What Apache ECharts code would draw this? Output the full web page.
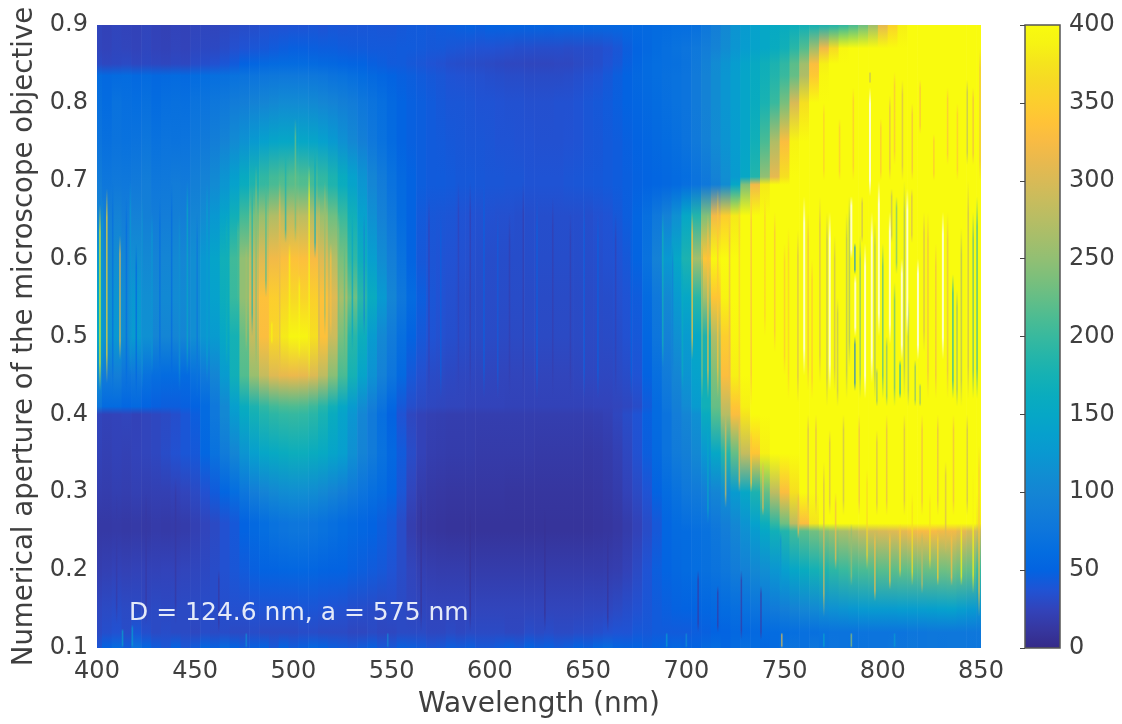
<!DOCTYPE html>
<html><head><meta charset="utf-8"><style>html,body{margin:0;padding:0;background:#fff}#c{width:1122px;height:724px}</style>
<script src="https://cdn.jsdelivr.net/npm/echarts@6/dist/echarts.min.js"></script></head><body><div id="c"></div>
<script>
const xTicks=[400,450,500,550,600,650,700,750,800,850];
const wavelengths=[];for(let w=400;w<=850;w+=5)wavelengths.push(w);
const Y=420;
const r090=[26,24,26,25,24,26,24,23,25,24,26,27,26,28,30,32,33,35,36,37,38,38,39,38,40,39,40,40,41,40,40,42,43,44,43,45,46,48,49,48,50,50,51,52,52,53,52,54,54,55,55,56,56,57,57,58,58,60,62,64,64,68,78,90,105,120,130,140,150,155,160,165,170,175,180,185,195,210,230,260,310,355,385,400,410,420,420,420,420,420,420];
const r087=[26,25,27,26,25,27,25,24,26,25,28,29,29,32,35,38,40,42,44,46,48,48,47,46,46,45,44,44,43,43,43,44,44,43,42,42,40,39,38,37,37,36,35,34,34,33,33,33,32,33,33,34,36,40,46,52,56,62,66,70,74,80,88,98,110,122,132,142,150,160,170,190,215,260,320,365,395,410,415,420,Y,Y,Y,Y,Y,Y,Y,Y,Y,Y,Y];
const r085=[30,28,29,30,28,29,28,27,29,28,32,34,36,40,44,50,54,58,60,62,62,62,60,58,56,54,52,50,48,46,44,44,42,40,38,36,34,33,32,31,30,29,28,28,27,27,27,28,28,30,32,34,38,42,48,54,60,64,66,68,72,82,94,108,120,132,144,156,168,180,195,220,260,330,385,405,415,420,Y,Y,Y,Y,Y,Y,Y,Y,Y,Y,Y,Y,Y];
const r0835=[62,58,60,62,58,60,56,58,60,58,62,64,66,68,70,72,74,76,78,80,80,80,78,76,72,70,66,62,58,54,50,48,46,44,42,40,38,37,36,35,34,33,32,32,31,31,31,31,32,34,36,38,42,46,50,56,60,64,68,70,74,84,96,110,122,134,146,158,170,185,200,225,270,345,395,410,418,Y,Y,Y,Y,Y,Y,Y,Y,Y,Y,Y,Y,Y,Y];
const r080=[68,62,70,66,64,68,62,66,68,66,72,74,78,82,86,90,96,100,104,108,108,108,106,102,98,92,86,78,72,66,58,52,48,46,44,42,40,40,39,38,38,37,36,36,35,35,35,36,36,38,40,42,44,47,50,54,58,62,66,70,74,84,96,110,122,134,146,160,178,200,235,300,370,405,415,Y,Y,Y,Y,Y,Y,Y,Y,Y,Y,Y,Y,Y,Y,Y,Y];
const r075=[74,68,72,70,72,76,70,74,72,74,80,84,90,98,108,118,128,138,146,150,152,150,146,138,128,116,104,92,80,70,60,52,48,46,44,43,42,41,40,40,39,38,38,37,37,36,36,36,37,38,40,41,43,45,48,50,54,58,62,66,72,82,94,108,120,132,146,170,210,270,330,390,410,Y,Y,Y,Y,Y,Y,Y,Y,Y,Y,Y,Y,Y,Y,Y,Y,Y,Y];
const r0705=[85,76,80,78,82,86,78,80,84,82,90,96,106,120,136,158,178,195,206,212,215,212,205,195,180,160,140,120,100,85,70,58,50,46,44,44,43,42,42,41,40,40,39,39,38,38,38,38,39,40,41,42,43,45,47,49,52,54,57,60,64,72,82,96,112,130,150,185,250,310,370,400,415,Y,Y,Y,Y,Y,Y,Y,Y,Y,Y,Y,Y,Y,Y,Y,Y,Y,Y];
const r0695=[88,78,82,80,84,88,80,82,86,84,92,98,108,122,140,162,182,198,210,216,218,215,208,198,182,162,142,122,102,86,71,59,50,46,44,44,43,42,42,41,40,40,39,39,38,38,38,38,39,40,41,42,43,45,47,49,52,54,57,60,66,72,80,92,110,150,240,320,380,410,Y,Y,Y,Y,Y,Y,Y,Y,Y,Y,Y,Y,Y,Y,Y,Y,Y,Y,Y,Y,Y];
const r0655=[100,90,96,88,95,92,86,88,92,90,100,108,125,145,170,205,235,255,270,278,280,278,272,255,230,200,170,140,115,95,78,62,50,43,41,40,39,38,37,36,36,35,35,34,34,34,34,34,34,34,34,36,38,42,46,54,66,80,95,115,150,185,240,320,350,380,405,Y,Y,Y,Y,Y,Y,Y,Y,Y,Y,Y,Y,Y,Y,Y,Y,Y,Y,Y,Y,Y,Y,Y,Y];
const r060=[125,105,110,100,112,105,98,100,104,102,112,125,145,170,205,250,280,305,320,330,335,332,325,305,275,235,195,165,135,110,90,70,52,42,39,38,37,36,35,34,33,33,33,33,33,33,33,33,33,33,33,34,36,38,42,52,70,95,125,150,180,260,340,395,410,Y,Y,Y,Y,Y,Y,Y,Y,Y,Y,Y,Y,Y,Y,Y,Y,Y,Y,Y,Y,Y,Y,Y,Y,Y,Y];
const r055=[145,115,120,108,125,112,104,106,108,106,112,125,140,165,200,250,300,335,350,358,362,358,352,335,305,265,230,190,160,128,100,78,60,46,40,37,35,34,33,32,32,32,32,32,31,31,31,31,31,31,31,32,33,35,38,45,60,80,105,130,150,190,260,340,390,410,Y,Y,Y,Y,Y,Y,Y,Y,Y,Y,Y,Y,Y,Y,Y,Y,Y,Y,Y,Y,Y,Y,Y,Y,Y];
const r050=[150,120,125,110,130,115,100,100,100,100,112,122,130,150,175,225,285,330,360,380,392,390,370,335,290,235,190,165,130,105,85,66,50,42,38,35,34,33,32,31,31,30,30,30,30,30,30,30,30,30,30,30,31,33,36,42,55,75,95,115,130,150,180,270,350,395,410,Y,Y,Y,Y,Y,Y,Y,Y,Y,Y,Y,Y,Y,Y,Y,Y,Y,Y,Y,Y,Y,Y,Y,Y];
const r045=[110,85,90,75,80,70,65,62,62,60,70,82,100,130,170,215,255,285,305,312,315,312,302,280,245,210,175,145,118,95,75,58,42,35,31,30,29,28,28,27,27,26,26,26,26,26,26,26,26,27,28,28,28,30,32,38,50,66,85,100,120,140,170,240,330,385,410,Y,Y,Y,Y,Y,Y,Y,Y,Y,Y,Y,Y,Y,Y,Y,Y,Y,Y,Y,Y,Y,Y,Y,Y];
const r041=[75,60,60,55,58,52,48,46,46,48,50,60,80,105,135,160,180,195,205,210,212,210,202,188,170,150,130,110,90,72,55,42,34,30,28,27,26,26,25,25,25,25,24,24,24,24,24,24,24,24,24,25,25,26,28,32,44,60,76,92,108,130,170,225,285,340,385,410,Y,Y,Y,Y,Y,Y,Y,Y,Y,Y,Y,Y,Y,Y,Y,Y,Y,Y,Y,Y,Y,Y,Y];
const r040=[26,24,25,26,24,26,28,30,34,40,46,60,80,105,130,155,172,185,192,196,198,196,190,178,160,142,122,102,84,66,50,38,28,24,22,21,20,20,20,20,20,20,20,20,20,20,20,20,20,20,20,21,23,27,32,38,48,60,72,88,100,115,160,215,275,330,375,405,Y,Y,Y,Y,Y,Y,Y,Y,Y,Y,Y,Y,Y,Y,Y,Y,Y,Y,Y,Y,Y,Y,Y];
const r035=[24,22,24,23,25,26,28,32,36,40,42,55,70,85,100,120,135,148,155,160,165,165,160,155,145,135,115,98,85,70,56,44,32,24,20,19,18,18,18,17,17,17,17,17,17,16,16,16,16,16,15,16,18,22,28,36,46,58,72,85,92,105,125,150,185,225,285,340,385,410,Y,Y,Y,Y,Y,Y,Y,Y,Y,Y,Y,Y,Y,Y,Y,Y,Y,Y,Y,Y,Y];
const r030=[20,19,21,20,22,21,22,22,24,26,30,36,44,54,64,76,88,98,105,110,112,112,110,105,98,90,82,74,66,60,52,40,26,18,15,14,13,13,13,13,13,13,12,12,12,12,12,12,12,12,12,13,15,18,24,30,38,50,62,70,80,84,90,100,112,130,150,180,225,280,330,370,400,415,Y,Y,Y,Y,Y,Y,Y,Y,Y,Y,Y,Y,Y,Y,Y,Y,Y];
const r026=[15,15,16,15,16,15,17,16,17,18,22,26,30,36,42,50,58,64,70,74,76,76,74,70,66,62,58,54,50,46,42,32,20,14,12,11,10,10,10,10,10,10,10,10,10,10,10,10,10,10,10,11,12,14,18,24,32,42,54,62,66,70,74,82,92,105,120,140,165,195,230,280,330,375,405,Y,Y,Y,Y,Y,Y,Y,Y,Y,Y,Y,Y,Y,Y,400,380,360];
const r025=[15,15,16,15,16,15,17,16,17,18,22,26,30,36,42,50,58,64,70,74,76,76,74,70,66,62,58,54,50,46,42,32,20,14,12,11,10,10,10,10,10,10,10,10,10,10,10,10,10,10,10,11,12,14,18,24,32,42,54,60,62,66,70,78,88,100,115,130,150,170,185,205,220,232,245,255,265,275,285,295,300,305,310,320,325,325,320,320,310,300,290];
const r020=[20,22,24,23,24,24,24,25,25,26,27,29,32,36,40,44,48,50,52,54,55,55,54,52,50,50,48,46,44,42,38,32,26,22,20,19,19,19,18,18,18,18,18,18,18,18,18,18,18,18,18,18,19,20,24,30,38,46,52,56,60,64,68,72,78,86,94,104,112,122,135,148,160,172,182,192,200,206,210,214,218,220,222,224,226,228,230,232,228,224,200];
const r015=[28,30,32,30,30,28,30,29,30,30,30,32,32,34,35,35,37,38,38,38,38,39,39,38,37,36,34,33,32,30,32,30,28,27,26,26,26,26,26,26,26,26,26,26,26,26,26,26,26,26,27,27,28,30,33,36,40,44,47,49,50,52,55,58,62,66,70,74,78,84,90,96,102,106,112,116,120,124,128,130,130,130,132,132,134,136,138,140,134,128,120];
const r012=[30,34,36,32,40,34,30,32,30,30,28,32,30,32,30,30,32,30,30,30,30,32,32,30,30,30,28,28,30,28,28,30,30,30,28,28,30,28,30,30,30,30,28,28,32,30,32,30,30,32,32,34,36,38,38,42,42,44,44,44,44,46,48,50,52,56,56,58,60,62,64,66,68,68,70,72,72,72,74,74,74,74,74,76,76,78,78,78,78,78,78];
const r010=[40,50,60,45,70,55,45,40,50,40,45,55,48,60,50,45,48,50,42,50,45,48,55,50,46,44,42,45,48,42,42,48,46,44,40,42,46,44,46,42,42,45,48,44,50,46,48,44,46,50,48,55,60,52,50,50,48,50,52,55,52,50,58,62,54,60,66,62,55,60,70,72,68,76,70,74,72,70,72,74,74,76,75,78,76,78,76,78,78,76,76];
const naRows=[0.90,0.87,0.85,0.835,0.80,0.75,0.705,0.695,0.655,0.60,0.55,0.50,0.45,0.41,0.40,0.35,0.30,0.26,0.25,0.20,0.15,0.12,0.10];
const rows=[r090,r087,r085,r0835,r080,r075,r0705,r0695,r0655,r060,r055,r050,r045,r041,r040,r035,r030,r026,r025,r020,r015,r012,r010];
// thin streaks: wavelength, NA low, NA high, value
const streaksLeft=[[401.5,0.43,0.67,395],[405,0.44,0.69,360],[411.7,0.47,0.63,320],[415,0.42,0.68,60],[402.8,0.45,0.68,130],[428,0.45,0.66,125],[446,0.45,0.7,150],[420,0.42,0.62,55],[438,0.42,0.7,60],[408,0.42,0.7,65],[417,0.45,0.7,125],[423,0.43,0.68,115],[432,0.44,0.68,65],[442,0.43,0.66,115],[451,0.42,0.66,75],[456,0.44,0.7,135]];
const streaksBump=[[471.8,0.54,0.65,210],[476,0.48,0.62,260],[481,0.46,0.72,240],[489,0.49,0.52,390],[493,0.44,0.7,310],[498,0.5,0.62,390],[503,0.47,0.58,395],[508,0.44,0.72,390],[513,0.47,0.68,290],[519,0.5,0.62,330],[526,0.45,0.63,220],[486,0.55,0.7,210],[466,0.46,0.66,170],[479,0.5,0.7,185],[496,0.62,0.74,180],[501,0.62,0.78,230],[511,0.6,0.74,160],[516,0.5,0.7,250],[523,0.5,0.66,240],[530,0.48,0.66,150],[536,0.5,0.66,105]];
const streaksMiddle=[[569,0.42,0.68,24],[584,0.42,0.7,24],[597,0.42,0.7,48],[610,0.42,0.66,20],[624,0.42,0.68,46],[641,0.42,0.66,20],[655,0.42,0.66,48],[575,0.42,0.66,46],[590,0.42,0.7,20],[604,0.42,0.66,44],[617,0.42,0.7,20],[632,0.42,0.68,20],[648,0.42,0.68,46],[664,0.42,0.66,22],[672,0.42,0.66,50]];
const streaksEdge=[[688,0.46,0.66,170],[693,0.44,0.62,90],[698,0.43,0.6,160],[703,0.47,0.66,340],[708,0.42,0.62,240],[711,0.42,0.66,330],[716,0.42,0.69,340],[722,0.42,0.66,320],[727,0.41,0.68,350],[733,0.41,0.69,330],[745,0.48,0.66,330],[752,0.42,0.64,350]];
const streaksYellow=[[756.8,0.415,0.637,300],[764,0.42,0.6,340],[771.6,0.41,0.66,280],[775.5,0.43,0.63,290],[781.6,0.42,0.66,270],[785.8,0.43,0.5,90],[785.8,0.58,0.62,110],[788.5,0.42,0.63,240],[796,0.42,0.65,260],[800,0.42,0.62,210],[804.5,0.62,0.69,280],[806,0.41,0.57,220],[808.8,0.42,0.47,170],[811,0.42,0.7,260],[814.8,0.62,0.69,300],[819,0.41,0.44,250],[823,0.42,0.66,320],[835.7,0.42,0.58,170],[840,0.41,0.64,270],[843.5,0.42,0.7,290],[846,0.42,0.66,220],[848,0.42,0.68,190],[768,0.44,0.68,300],[777,0.41,0.55,280],[783,0.46,0.68,260],[789.5,0.62,0.68,290],[797,0.41,0.46,250],[802,0.41,0.5,240],[807,0.58,0.68,230],[813,0.41,0.55,260],[816.5,0.41,0.47,240],[821,0.48,0.66,300],[827,0.42,0.62,320],[833,0.42,0.66,310],[837.8,0.41,0.56,250],[762,0.43,0.66,320],[750,0.45,0.62,340],[740,0.5,0.68,350]];
const streaksTop=[[793.5,0.825,0.84,280],[810,0.7,0.83,300],[843,0.72,0.83,280],[849.5,0.7,0.87,320],[803.6,0.7,0.81,310],[819,0.76,0.83,330],[799,0.7,0.78,340],[826,0.7,0.76,340],[838,0.7,0.8,340],[785,0.7,0.82,340],[815,0.7,0.8,320],[833,0.72,0.82,330],[846,0.72,0.82,320],[778,0.7,0.78,340],[770,0.7,0.8,350],[806,0.72,0.84,330]];
const streaksLower=[[711,0.26,0.39,150],[720,0.28,0.4,300],[727,0.3,0.4,320],[733,0.3,0.38,340],[739,0.27,0.34,310],[757,0.24,0.3,320],[770,0.14,0.34,300],[776,0.2,0.3,320],[784,0.18,0.26,250],[792,0.2,0.33,360],[803.6,0.175,0.25,340],[808.8,0.19,0.26,350],[815,0.18,0.3,370],[824,0.2,0.3,370],[832,0.22,0.34,300],[840,0.18,0.26,390],[846,0.17,0.33,390],[849,0.14,0.36,340],[762,0.27,0.4,300],[766,0.27,0.4,310],[773,0.27,0.38,300],[780,0.27,0.4,290],[788,0.27,0.4,320],[797,0.27,0.38,300],[802,0.27,0.4,310],[811,0.27,0.4,300],[820,0.27,0.4,320],[828,0.27,0.4,310],[836,0.27,0.4,320],[843,0.27,0.4,290],[748,0.17,0.25,120],[796,0.16,0.25,330],[820,0.17,0.25,280],[828,0.18,0.25,350],[835,0.18,0.25,330]];
const streaksBottom=[[748.6,0.1,0.12,300],[784,0.1,0.12,250],[413,0.1,0.125,140],[418,0.1,0.13,130],[476,0.1,0.12,110],[548,0.1,0.12,100],[690,0.1,0.12,130],[700,0.1,0.12,110],[770,0.1,0.12,140],[806,0.1,0.12,130],[410,0.13,0.3,16],[425,0.13,0.3,14],[440,0.13,0.32,13],[462,0.12,0.2,14],[565,0.12,0.3,8],[590,0.12,0.28,7],[628,0.12,0.28,7],[660,0.12,0.25,10],[706,0.12,0.2,15],[716,0.12,0.18,15],[728,0.11,0.2,15],[738,0.11,0.18,16]];
const streaks=[].concat(streaksLeft,streaksBump,streaksMiddle,streaksEdge,streaksYellow,streaksTop,streaksLower,streaksBottom);
const whiteStreaks=[[773,0.43,0.66],[786,0.5,0.58],[791,0.42,0.62],[794.4,0.44,0.66],[803.6,0.49,0.66],[809.7,0.47,0.6],[817.9,0.47,0.6],[830.6,0.47,0.66],[798,0.5,0.7],[812.5,0.5,0.69],[784,0.6,0.68],[793.5,0.68,0.82],[760,0.45,0.68]];
const parulaStops=[[.2081,.1663,.5292],[.2123,.2138,.6270],[.1959,.2645,.7279],[.1253,.3242,.8303],[.0117,.3875,.8820],[.0165,.4266,.8786],[.0498,.4586,.8641],[.0723,.4887,.8467],[.0793,.5200,.8312],[.0641,.5570,.8240],[.0343,.5966,.8199],[.0239,.6287,.8038],[.0228,.6535,.7768],[.0384,.6743,.7436],[.0843,.6928,.7062],[.1453,.7098,.6646],[.2178,.7250,.6193],[.3022,.7376,.5712],[.3953,.7459,.5244],[.4871,.7491,.4840],[.5709,.7485,.4494],[.6473,.7456,.4188],[.7184,.7411,.3905],[.7858,.7356,.3633],[.8507,.7299,.3360],[.9139,.7258,.3063],[.9739,.7314,.2666],[.9990,.7653,.2164],[.9880,.8066,.1794],[.9697,.8481,.1475],[.9589,.8949,.1132],[.9661,.9514,.0755],[.9763,.9831,.0538]];
function color(v,a){
  const t=Math.max(0,Math.min(1,v/400))*(parulaStops.length-1),i=Math.min(Math.floor(t),parulaStops.length-2),f=t-i;
  const c=parulaStops[i].map((p,k)=>Math.round(255*(p+(parulaStops[i+1][k]-p)*f)));
  return a===undefined?`rgb(${c})`:`rgba(${c},${a})`;
}
function stripItem(params,api){
  const i=params.dataIndex,w=api.value(0);
  const l=Math.max(400,w-2.5),r=Math.min(850,w+2.5);
  const p0=api.coord([l,0.9]),p1=api.coord([r,0.1]);
  const stops=naRows.map((na,k)=>({offset:(0.9-na)/0.8,color:color(rows[k][i])}));
  return {type:'rect',shape:{x:p0[0],y:p0[1],width:p1[0]-p0[0]+0.6,height:p1[1]-p0[1]},
    style:{fill:{type:'linear',x:0,y:0,x2:0,y2:1,colorStops:stops}}};
}
function streakFill(rgbFn,peak){
  return {type:'linear',x:0,y:0,x2:0,y2:1,colorStops:[{offset:0,color:rgbFn(0)},{offset:.15,color:rgbFn(peak)},{offset:.85,color:rgbFn(peak)},{offset:1,color:rgbFn(0)}]};
}
function streakItem(params,api){
  const w=api.value(0),lo=api.value(1),hi=api.value(2),v=api.value(3);
  const a=api.coord([w,hi]),b=api.coord([w,lo]);
  return {type:'rect',shape:{x:a[0]-0.8,y:a[1],width:1.6,height:b[1]-a[1]},style:{fill:streakFill(al=>color(v,al),.7)}};
}
function whiteItem(params,api){
  const w=api.value(0),lo=api.value(1),hi=api.value(2);
  const a=api.coord([w,hi]),b=api.coord([w,lo]);
  return {type:'rect',shape:{x:a[0]-1,y:a[1],width:2,height:b[1]-a[1]},style:{fill:streakFill(al=>`rgba(255,255,235,${al})`,.85)}};
}
const font='"DejaVu Sans"',ink='#3f3f3f';
const chart=echarts.init(document.getElementById('c'),null,{renderer:'canvas'});
chart.setOption({
  animation:false,backgroundColor:'#fff',
  grid:[{left:97,right:141,top:25,bottom:76,outerBoundsMode:'none'},{left:1025,width:35,top:25,bottom:76,outerBoundsMode:'none'}],
  xAxis:[
    {type:'value',gridIndex:0,min:400,max:850,interval:50,name:'Wavelength (nm)',nameLocation:'middle',nameGap:43,
     nameTextStyle:{fontFamily:font,fontSize:28,color:ink},axisLine:{show:false},axisTick:{show:false},splitLine:{show:false},
     axisLabel:{fontFamily:font,fontSize:24,color:ink,margin:12,formatter:v=>xTicks.includes(v)?String(v):''}},
    {type:'value',gridIndex:1,min:0,max:1,show:false}
  ],
  yAxis:[
    {type:'value',gridIndex:0,min:0.1,max:0.9,interval:0.1,name:'Numerical aperture of the microscope objective',nameLocation:'middle',nameGap:56,
     nameTextStyle:{fontFamily:font,fontSize:27.6,color:ink},axisLine:{show:false},axisTick:{show:false},splitLine:{show:false},
     axisLabel:{fontFamily:font,fontSize:24,color:ink,margin:9,formatter:v=>v.toFixed(1)}},
    {type:'value',gridIndex:1,min:0,max:400,interval:50,position:'right',z:10,axisLine:{show:false},splitLine:{show:false},
     axisTick:{show:true,inside:true,length:5,lineStyle:{color:'#444',width:1}},
     axisLabel:{fontFamily:font,fontSize:24,color:ink,margin:9}}
  ],
  series:[
    {type:'custom',name:'strips',xAxisIndex:0,yAxisIndex:0,clip:true,silent:true,encode:{x:0,y:1},renderItem:stripItem,data:wavelengths.map(w=>[w,0.5])},
    {type:'custom',name:'streaks',xAxisIndex:0,yAxisIndex:0,clip:true,silent:true,z:3,encode:{x:0,y:1},renderItem:streakItem,data:streaks},
    {type:'custom',name:'white',xAxisIndex:0,yAxisIndex:0,clip:true,silent:true,z:4,encode:{x:0,y:1},renderItem:whiteItem,data:whiteStreaks},
    {type:'custom',name:'colorbar',xAxisIndex:1,yAxisIndex:1,silent:true,encode:{x:0,y:1},
     renderItem:function(p,api){
       const a=api.coord([0,400]),b=api.coord([1,0]);
       return {type:'rect',shape:{x:a[0],y:a[1],width:b[0]-a[0],height:b[1]-a[1]},
         style:{stroke:'#555',lineWidth:1.5,fill:{type:'linear',x:0,y:1,x2:0,y2:0,colorStops:parulaStops.map((c,i)=>({offset:i/(parulaStops.length-1),color:color(400*i/(parulaStops.length-1))}))}}};
     },data:[[0,0]]}
  ],
  graphic:[{type:'text',left:129,top:601,z:20,style:{text:'D = 124.6 nm, a = 575 nm',fontFamily:font,fontSize:25,fill:'#e4eaf8'}}]
});
</script></body></html>
